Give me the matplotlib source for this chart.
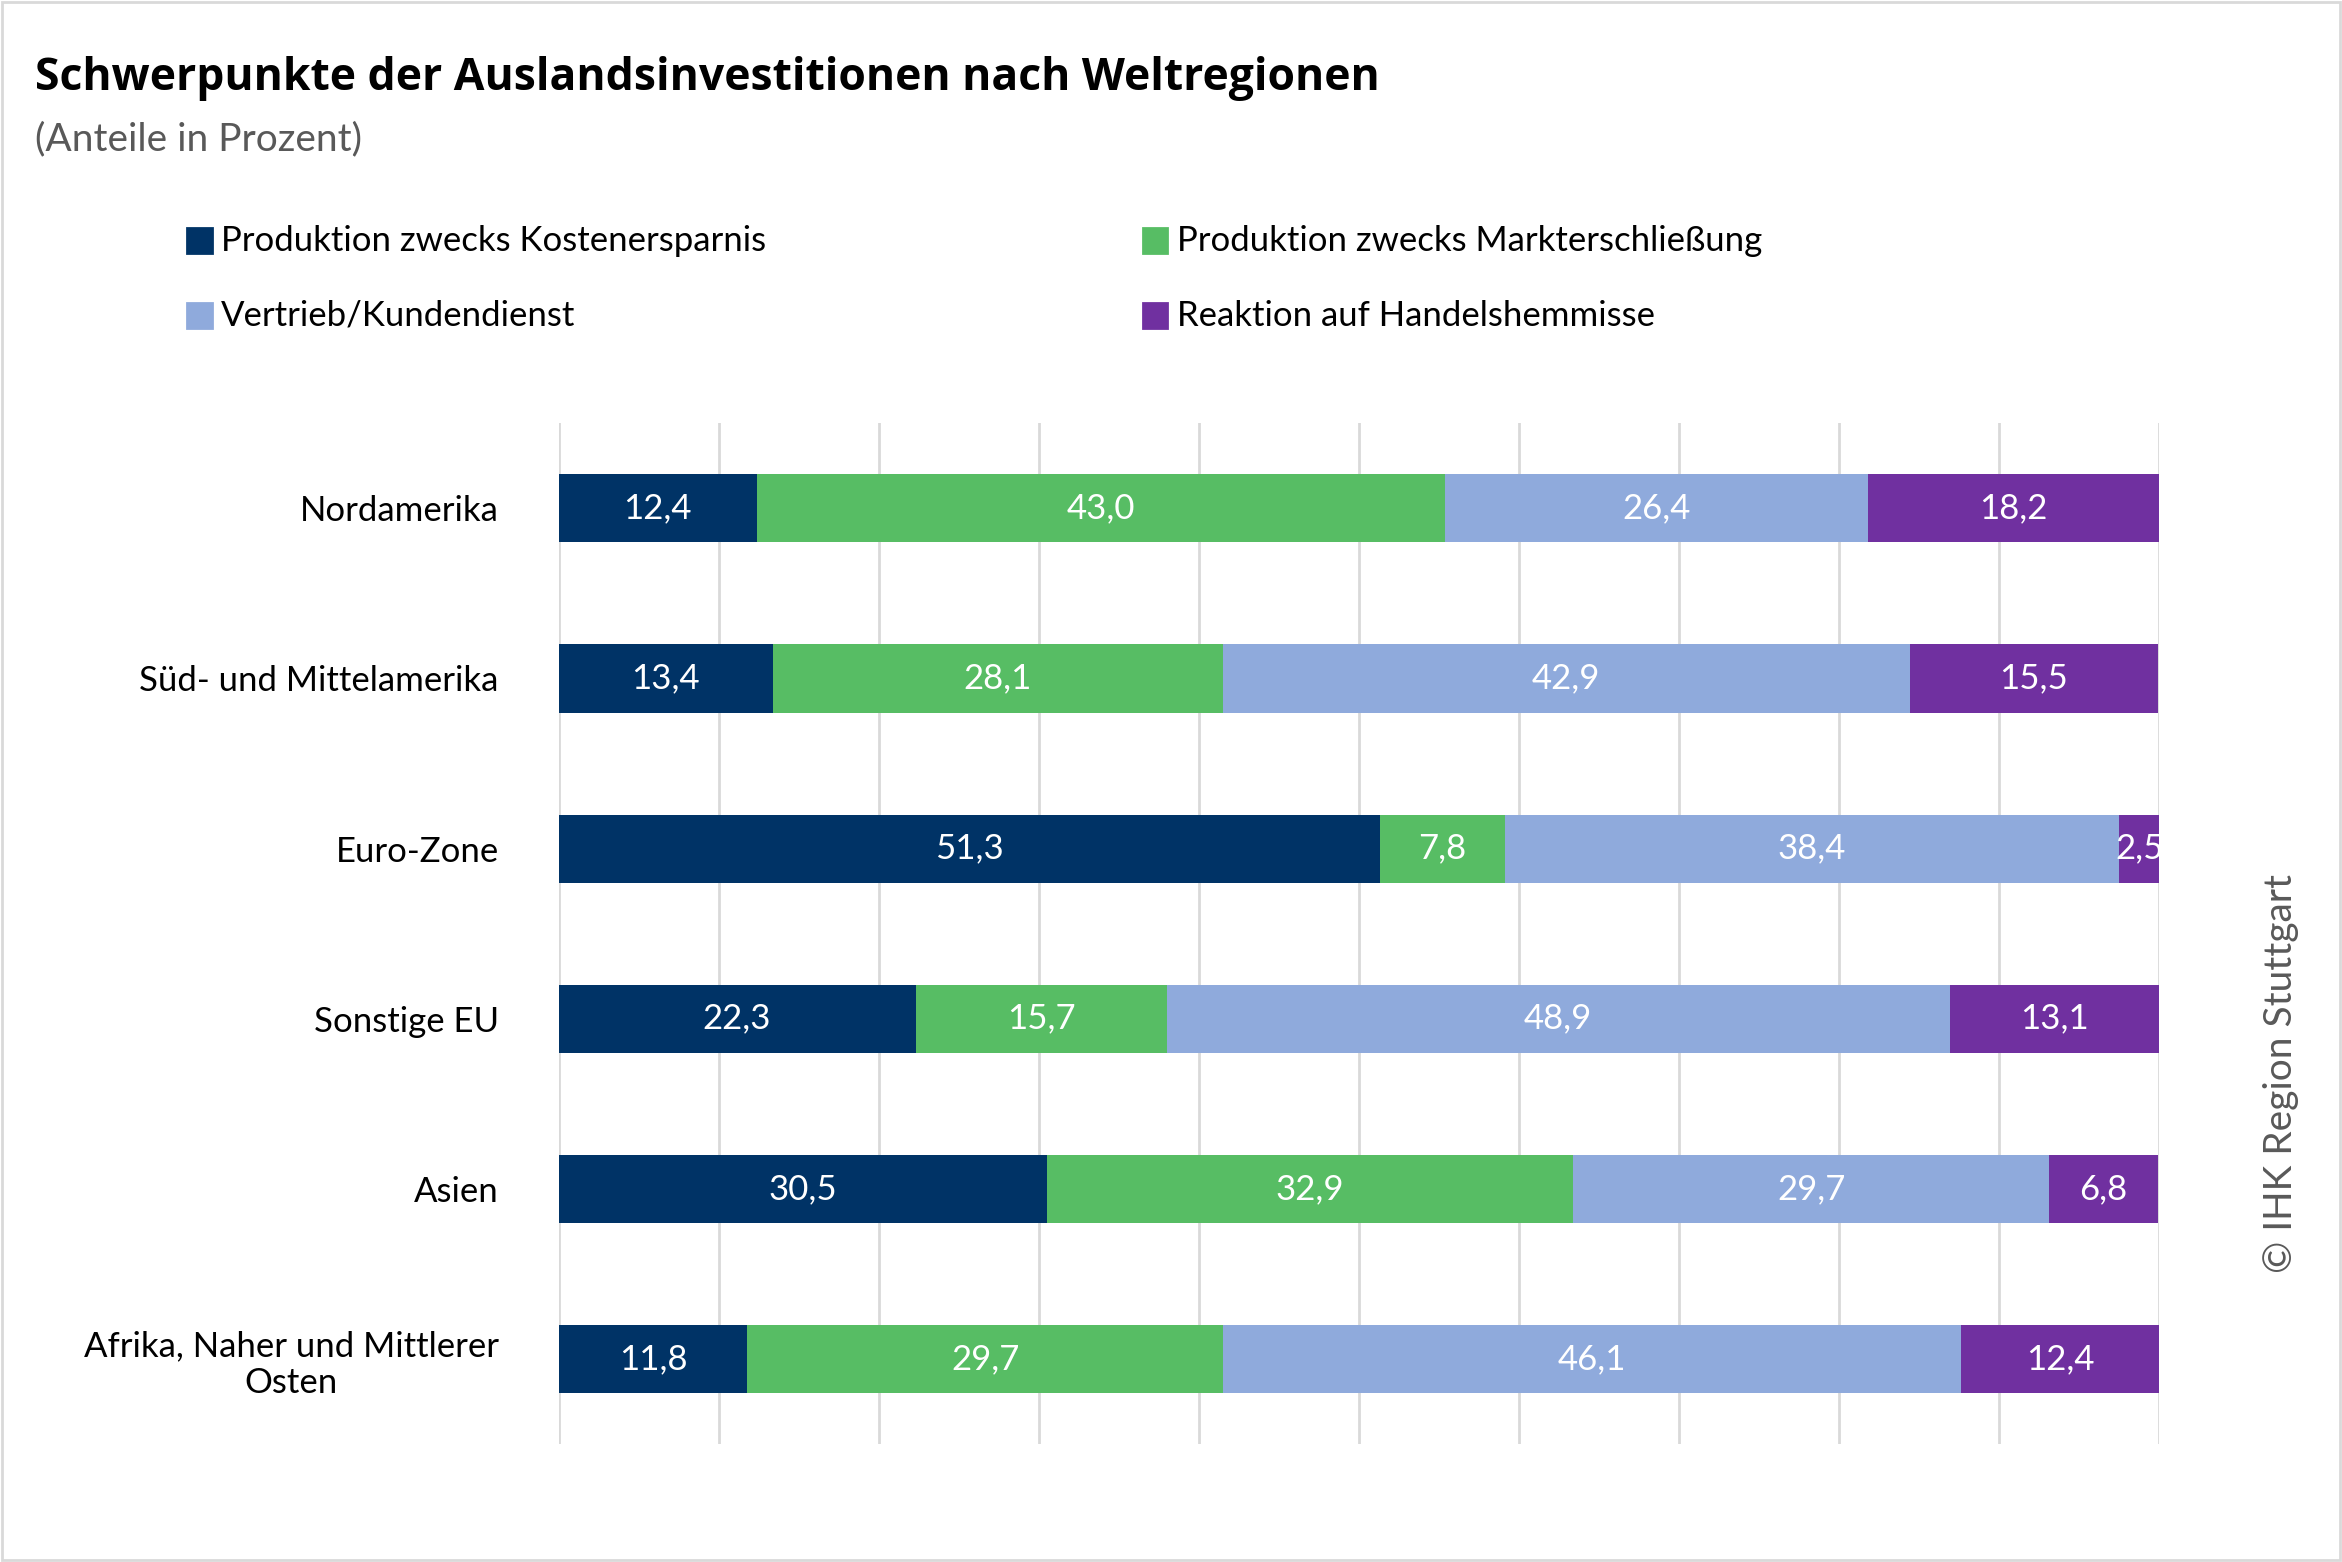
import matplotlib.pyplot as plt
import numpy as np
from matplotlib.patches import Rectangle

categories = ["Nordamerika", "Süd- und Mittelamerika", "Euro-Zone", "Sonstige EU", "Asien",
              "Afrika, Naher und Mittlerer\nOsten"]
series_names = ["Produktion zwecks Kostenersparnis", "Produktion zwecks Markterschließung",
                "Vertrieb/Kundendienst", "Reaktion auf Handelshemmisse"]
kosten = [12.4, 13.4, 51.3, 22.3, 30.5, 11.8]
markt = [43.0, 28.1, 7.8, 15.7, 32.9, 29.7]
vertrieb = [26.4, 42.9, 38.4, 48.9, 29.7, 46.1]
reaktion = [18.2, 15.5, 2.5, 13.1, 6.8, 12.4]
colors = ["#003366", "#57BD64", "#8FAADC", "#7030A0"]

plt.rcParams['font.family'] = ['Lato', 'DejaVu Sans']
fig = plt.figure(figsize=(11.71, 7.81), dpi=200)
ax = fig.add_axes([0.2385, 0.0755, 0.6835, 0.6535])
y = np.arange(len(categories))
left = np.zeros(len(categories))
for vals, c in zip([kosten, markt, vertrieb, reaktion], colors):
    vals = np.array(vals)
    ax.barh(y, vals, left=left, height=0.4, color=c, zorder=3)
    for yi, (l, v) in enumerate(zip(left, vals)):
        ax.text(l + v / 2, yi, f"{v:.1f}".replace('.', ','), ha='center', va='center',
                color='white', fontsize=12.5, zorder=4)
    left += vals
ax.set_xlim(0, 100)
ax.set_ylim(5.5, -0.5)
ax.set_xticks(np.arange(0, 101, 10))
ax.xaxis.grid(True, color='#D9D9D9', linewidth=1, zorder=0)
ax.tick_params(axis='x', bottom=False, labelbottom=False)
ax.tick_params(axis='y', left=False, pad=18)
ax.set_yticks(y)
ax.set_yticklabels(categories, fontsize=12.5, multialignment='center')
for s in ax.spines.values():
    s.set_visible(False)

fig.text(0.015, 0.95, "Schwerpunkte der Auslandsinvestitionen nach Weltregionen",
         fontsize=16, fontweight='bold', family=['Open Sans', 'DejaVu Sans'], va='center')
fig.text(0.015, 0.911, "(Anteile in Prozent)", fontsize=14, color='#595959', va='center')

legpos = [(0.08, 0.846), (0.488, 0.846), (0.08, 0.798), (0.488, 0.798)]
for (lx, ly), name, c in zip(legpos, series_names, colors):
    fig.patches.append(Rectangle((lx, ly - 0.008), 0.0105, 0.016, color=c,
                                 transform=fig.transFigure))
    fig.text(lx + 0.0145, ly, name, fontsize=12.5, va='center')

fig.text(0.974, 0.185, "© IHK Region Stuttgart", rotation=90, fontsize=14,
         color='#595959', ha='center', va='bottom')
fig.patches.append(Rectangle((0.001, 0.001), 0.998, 0.998, fill=False, edgecolor='#D9D9D9',
                             linewidth=1, transform=fig.transFigure))
fig.savefig("out.png", dpi=200)
